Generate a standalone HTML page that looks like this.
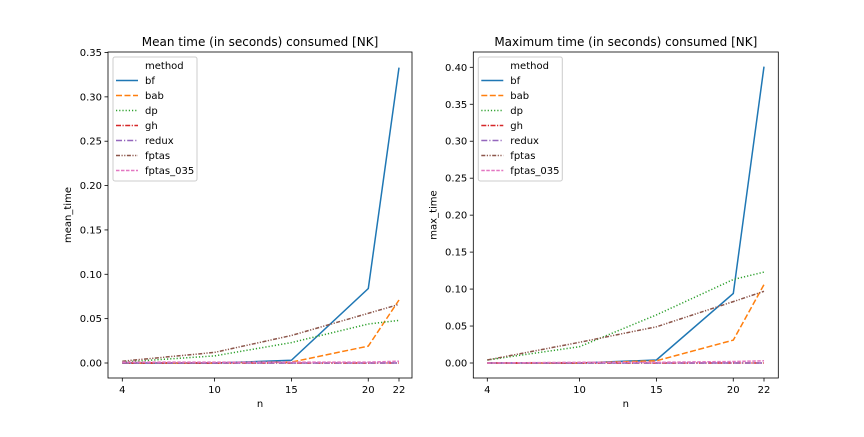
<!DOCTYPE html>
<html><head><meta charset="utf-8"><style>
body{margin:0;background:#fff;}
svg{font-family:"DejaVu Sans","Liberation Sans",sans-serif;}
</style></head><body>
<svg id="s" width="864" height="432" xmlns="http://www.w3.org/2000/svg"></svg>
<script>
const ns="http://www.w3.org/2000/svg";
const svg=document.getElementById('s');
const nVals=[4,10,15,20,22];
const methods=["bf","bab","dp","gh","redux","fptas","fptas_035"];
const colors=["#1f77b4","#ff7f0e","#2ca02c","#d62728","#9467bd","#8c564b","#e377c2"];
const dashes=["","6,2.5","1.2,2","5,1.5,1.2,1.5","6,2,1.2,2","4,1.5,1.2,1.5,1.2,1.5","3.5,1.5"];
const meanBf=[0,0,0.003,0.084,0.333];
const meanBab=[0,0,0.001,0.019,0.071];
const meanDp=[0.001,0.008,0.023,0.044,0.048];
const meanGh=[0,0,0,0,0];
const meanRedux=[0,0,0,0,0];
const meanFptas=[0.002,0.012,0.031,0.056,0.066];
const meanFptas035=[0.001,0.001,0.001,0.001,0.002];
const maxBf=[0,0,0.004,0.094,0.401];
const maxBab=[0,0,0.003,0.031,0.106];
const maxDp=[0.004,0.022,0.065,0.113,0.123];
const maxGh=[0,0,0,0,0];
const maxRedux=[0,0,0,0,0];
const maxFptas=[0.004,0.028,0.049,0.083,0.097];
const maxFptas035=[0,0.001,0.001,0.002,0.003];
const meanTicks=["0.00","0.05","0.10","0.15","0.20","0.25","0.30","0.35"];
const maxTicks=["0.00","0.05","0.10","0.15","0.20","0.25","0.30","0.35","0.40"];

function el(tag,attrs,name,parent,text){
  const e=document.createElementNS(ns,tag);
  for(const k in attrs)e.setAttribute(k,attrs[k]);
  
  
  if(text!==undefined)e.textContent=text;
  (parent||svg).appendChild(e);return e;
}
function panel(cfg){
  const g=el('g',{},cfg.name);
  const x=v=>cfg.x4+(v-4)/(22-4)*(cfg.x22-cfg.x4);
  const y=v=>cfg.y0-v/0.05*cfg.step;
  el('text',{x:(cfg.L+cfg.R)/2,y:46,'text-anchor':'middle','font-size':12},'chart-title',g,cfg.title);
  cfg.ticks.forEach(t=>{const yy=y(parseFloat(t));
    el('line',{x1:cfg.L-3.5,x2:cfg.L,y1:yy,y2:yy,stroke:'#000','stroke-width':0.8},'y-tick',g);
    el('text',{x:cfg.L-6,y:yy+3.5,'text-anchor':'end','font-size':10},'y-tick-label',g,t);});
  nVals.forEach(n=>{const xx=x(n);
    el('line',{x1:xx,x2:xx,y1:cfg.B,y2:cfg.B+3.5,stroke:'#000','stroke-width':0.8},'x-tick',g);
    el('text',{x:xx,y:cfg.B+15,'text-anchor':'middle','font-size':10},'x-tick-label',g,String(n));});
  el('text',{x:(cfg.L+cfg.R)/2,y:407,'text-anchor':'middle','font-size':10},'x-axis-title',g,'n');
  el('text',{x:0,y:0,'text-anchor':'middle','font-size':10,transform:`translate(${cfg.L-37},${(cfg.T+cfg.B)/2}) rotate(-90)`},'y-axis-title',g,cfg.ylabel);
  cfg.series.forEach((s,i)=>{
    const pts=s.map((v,j)=>x(nVals[j]).toFixed(1)+','+y(v).toFixed(1)).join(' ');
    const a={points:pts,fill:'none',stroke:colors[i],'stroke-width':1.5};
    if(dashes[i])a['stroke-dasharray']=dashes[i];
    el('polyline',a,'line-'+methods[i],g);
  });
  el('rect',{x:cfg.L,y:cfg.T,width:cfg.R-cfg.L,height:cfg.B-cfg.T,fill:'none',stroke:'#000','stroke-width':0.8},'plot-frame',g);
  const lg=el('g',{},'legend',g);
  const lx=cfg.L+5,ly=cfg.T+5;
  el('rect',{x:lx,y:ly,width:cfg.legW,height:124,fill:'#fff','fill-opacity':0.8,stroke:'#ccc',rx:2},'legend-box',lg);
  el('text',{x:lx+32,y:ly+12,'font-size':10},'legend-title',lg,'method');
  methods.forEach((m,i)=>{const yy=ly+27+i*15;
    const a={x1:lx+3,x2:lx+25,y1:yy-3.5,y2:yy-3.5,stroke:colors[i],'stroke-width':1.5};
    if(dashes[i])a['stroke-dasharray']=dashes[i];
    el('line',a,'legend-line-'+m,lg);
    el('text',{x:lx+32,y:yy,'font-size':10},'legend-entry-'+m,lg,m);});
}
panel({name:'mean-time-panel',title:'Mean time (in seconds) consumed [NK]',ylabel:'mean_time',L:108,R:412,T:52,B:378,x4:122.3,x22:399,y0:363,step:(363-52.5)/7,ticks:meanTicks,legW:84,
  series:[meanBf,meanBab,meanDp,meanGh,meanRedux,meanFptas,meanFptas035]});
panel({name:'max-time-panel',title:'Maximum time (in seconds) consumed [NK]',ylabel:'max_time',L:473.3,R:778.3,T:52,B:378,x4:487.3,x22:764,y0:363,step:(363-67.3)/8,ticks:maxTicks,legW:84,
  series:[maxBf,maxBab,maxDp,maxGh,maxRedux,maxFptas,maxFptas035]});
</script>
</body></html>
